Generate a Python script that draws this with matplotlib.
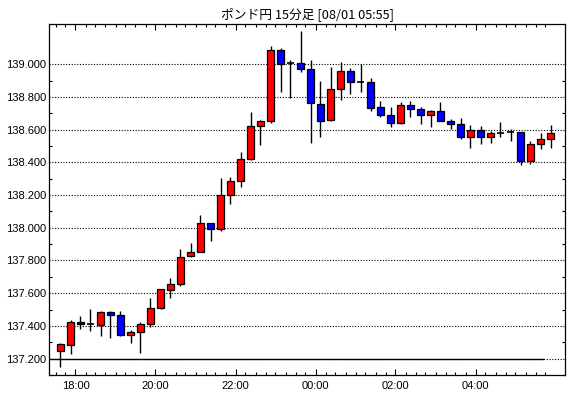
import matplotlib
matplotlib.use("Agg")
import matplotlib.pyplot as plt
import matplotlib.dates as mdates
from matplotlib.ticker import FixedLocator
import pandas as pd
import numpy as np

title = "ポンド円 15分足 [08/01 05:55]"
start_time = "2024-07-31 17:30"
n_candles = 50

opens = [137.249, 137.285, 137.426, 137.414, 137.405, 137.487, 137.469, 137.344, 137.365, 137.414,
         137.509, 137.621, 137.658, 137.829, 137.853, 138.030, 137.993, 138.201, 138.286, 138.420,
         138.622, 138.652, 139.085, 139.006, 139.006, 138.969, 138.756, 138.658, 138.847, 138.957,
         138.890, 138.890, 138.738, 138.689, 138.640, 138.750, 138.725, 138.689, 138.713, 138.652,
         138.634, 138.555, 138.597, 138.555, 138.582, 138.585, 138.585, 138.408, 138.512, 138.542]
highs = [137.298, 137.438, 137.458, 137.501, 137.490, 137.493, 137.493, 137.377, 137.426, 137.568,
         137.623, 137.690, 137.871, 137.910, 138.081, 138.030, 138.306, 138.311, 138.463, 138.709,
         138.660, 139.112, 139.098, 139.024, 139.201, 139.024, 138.898, 138.984, 139.014, 138.977,
         139.002, 138.916, 138.776, 138.738, 138.770, 138.774, 138.738, 138.723, 138.768, 138.666,
         138.671, 138.628, 138.622, 138.591, 138.646, 138.603, 138.585, 138.530, 138.579, 138.628]
lows = [137.150, 137.231, 137.383, 137.369, 137.338, 137.326, 137.338, 137.295, 137.234, 137.395,
        137.501, 137.570, 137.643, 137.820, 137.853, 137.918, 137.981, 138.146, 138.247, 138.414,
        138.509, 138.638, 138.833, 138.796, 138.955, 138.518, 138.552, 138.652, 138.784, 138.815,
        138.833, 138.717, 138.677, 138.619, 138.634, 138.680, 138.634, 138.619, 138.652, 138.603,
        138.542, 138.487, 138.512, 138.518, 138.555, 138.528, 138.381, 138.387, 138.479, 138.485]
closes = [137.292, 137.426, 137.414, 137.414, 137.487, 137.466, 137.344, 137.365, 137.414, 137.511,
          137.623, 137.658, 137.822, 137.853, 138.030, 137.993, 138.201, 138.286, 138.420, 138.622,
          138.652, 139.085, 139.004, 139.006, 138.969, 138.762, 138.652, 138.847, 138.957, 138.890,
          138.890, 138.735, 138.689, 138.640, 138.750, 138.725, 138.689, 138.713, 138.652, 138.634,
          138.555, 138.597, 138.555, 138.579, 138.582, 138.585, 138.408, 138.512, 138.542, 138.579]

y_ticks = [137.2, 137.4, 137.6, 137.8, 138.0, 138.2, 138.4, 138.6, 138.8, 139.0]
y_min, y_max = 137.104, 139.244
ref_level = 137.2

up_color = "#FF0000"
down_color = "#0000FF"

period = pd.Timedelta(minutes=15)
starts = pd.date_range(start_time, periods=n_candles, freq="15min")
centers = mdates.date2num(starts + period / 2)
cw = (period * 0.64) / pd.Timedelta(days=1)

fig = plt.figure(figsize=(5.70, 3.98), dpi=100)
ax = fig.add_axes([49.3 / 570, 1 - 375 / 398, (565.3 - 49.3) / 570, (375 - 24.3) / 398])

# grid
for yv in y_ticks:
    ax.axhline(yv, color="black", lw=0.8, ls=(0, (1, 1.5)), zorder=1)
ax.axhline(ref_level, xmin=0, xmax=(543 - 49.3) / 516, color="black", lw=1.0, zorder=1.5)

o = np.array(opens); h = np.array(highs); l = np.array(lows); c = np.array(closes)
for x, oo, hh, ll, cc in zip(centers, o, h, l, c):
    ax.vlines(x, ll, hh, color="black", lw=1.0, zorder=2)
    if abs(cc - oo) < 1e-4:
        ax.hlines(oo, x - cw / 2, x + cw / 2, color="black", lw=1.2, zorder=3)
    else:
        col = up_color if cc > oo else down_color
        ax.bar(x, abs(cc - oo), width=cw, bottom=min(oo, cc), color=col,
               edgecolor="black", linewidth=0.9, zorder=3)

x_left = mdates.date2num(starts[0] + period * (-0.62))
x_right = mdates.date2num(starts[0] + period * 50.98)
ax.set_xlim(x_left, x_right)
ax.set_ylim(y_min, y_max)

major_starts = [t for t in starts if t.minute == 0 and t.hour % 2 == 0]
ax.xaxis.set_major_locator(FixedLocator(mdates.date2num(major_starts)))
ax.xaxis.set_minor_locator(FixedLocator(mdates.date2num(starts)))
ax.xaxis.set_major_formatter(mdates.DateFormatter("%H:%M"))
ax.set_yticks(y_ticks)
ax.set_yticklabels([f"{v:.3f}" for v in y_ticks])
ax.set_yticks([v + 0.1 for v in y_ticks[:-1]] + [137.1], minor=True)

ax.tick_params(axis="both", which="both", direction="in", top=True, right=True,
               labelsize=8, colors="black", width=0.8)
ax.tick_params(axis="x", which="major", length=4.0, pad=4)
ax.tick_params(axis="x", which="minor", length=2.0)
ax.tick_params(axis="y", which="major", length=0, pad=2)
ax.tick_params(axis="y", which="minor", length=2.2)
for lab in ax.get_xticklabels() + ax.get_yticklabels():
    lab.set_fontfamily("Liberation Sans")
for sp in ax.spines.values():
    sp.set_linewidth(0.9)
    sp.set_color("black")

fig.text((49.3 + 565.3) / 2 / 570, 1 - 14 / 398, title, ha="center", va="center",
         fontsize=9.2, family=["Noto Sans CJK JP", "DejaVu Sans"])

fig.savefig("out.png", dpi=100, facecolor="white")
